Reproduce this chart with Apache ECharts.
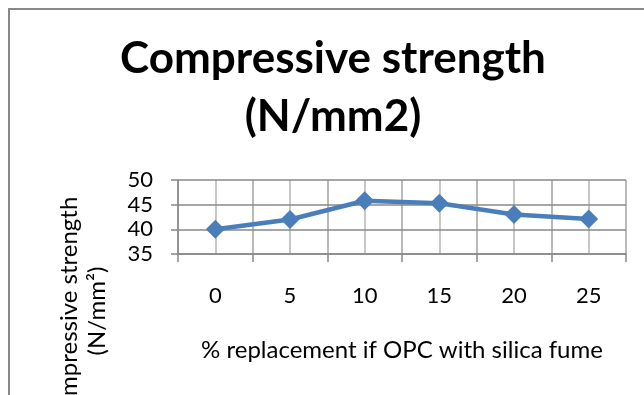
<!DOCTYPE html>
<html>
<head>
<meta charset="utf-8">
<script src="https://cdn.jsdelivr.net/npm/echarts@6/dist/echarts.min.js"></script>
<style>html,body{margin:0;padding:0;background:#fff}#c{width:644px;height:395px}</style>
</head>
<body>
<div id="c"></div>
<script>
const categories = ['0', '5', '10', '15', '20', '25'];
const strength = [40, 42, 45.8, 45.3, 43, 42.1];
const titleLines = ['Compressive strength', '(N/mm2)'];
const xAxisName = '% replacement if OPC with silica fume';
const yAxisName = 'Compressive strength\n(N/mm\u00B2)';

const FONT = 'Lato, "Open Sans", sans-serif';
const chart = echarts.init(document.getElementById('c'), null, {renderer: 'canvas'});
chart.setOption({
  animation: false,
  backgroundColor: '#fff',
  grid: {left: 178, right: 18, top: 180, bottom: 141, containLabel: false},
  xAxis: [{
    type: 'category',
    data: categories,
    boundaryGap: true,
    axisLine: {lineStyle: {color: '#888', width: 1.5}},
    axisTick: {show: true, length: 8, lineStyle: {color: '#888', width: 1.5}},
    axisLabel: {margin: 31, fontSize: 22, color: '#000', fontFamily: FONT},
    splitLine: {show: true, interval: 0, lineStyle: {color: '#b4b4b4', width: 1.5, type: 'solid'}},
    name: xAxisName,
    nameLocation: 'middle',
    nameGap: 84,
    nameTextStyle: {fontSize: 24, color: '#000', fontFamily: FONT}
  }, {
    type: 'value',
    min: -0.5, max: 5.5, interval: 0.5,
    position: 'bottom',
    show: true,
    axisLine: {show: false, onZero: false}, axisTick: {show: false}, axisLabel: {show: false},
    splitLine: {show: true, lineStyle: {color: '#b4b4b4', width: 1.5, type: 'solid'}}
  }],
  yAxis: {
    type: 'value',
    min: 35, max: 50, interval: 5,
    axisLine: {show: true, onZero: false, lineStyle: {color: '#888', width: 1.5}},
    axisTick: {show: true, length: 7, lineStyle: {color: '#888', width: 1.5}},
    axisLabel: {margin: 25, fontSize: 22, color: '#000', fontFamily: FONT},
    splitLine: {show: true, lineStyle: {color: '#888', width: 1.5}},
    z: 3
  },
  series: [{
    type: 'line',
    xAxisIndex: 0,
    data: strength,
    symbol: 'diamond',
    symbolSize: 19,
    lineStyle: {color: '#4a7ebb', width: 4.5},
    itemStyle: {color: '#4a7ebb'},
    z: 5
  }],
  graphic: [
    {type: 'rect', shape: {x: 9, y: 9, width: 1000, height: 1000},
     style: {fill: 'none', stroke: '#888', lineWidth: 2}, silent: true},
    {type: 'text', x: 333, y: 59,
     style: {text: titleLines[0], font: 'bold 44px ' + FONT, fill: '#000', textAlign: 'center', textVerticalAlign: 'middle'}},
    {type: 'text', x: 333, y: 117,
     style: {text: titleLines[1], font: 'bold 44px ' + FONT, fill: '#000', textAlign: 'center', textVerticalAlign: 'middle'}},
    {type: 'text', x: 83, y: 311, rotation: Math.PI / 2,
     style: {text: yAxisName, font: '24px ' + FONT, fill: '#000', textAlign: 'center', textVerticalAlign: 'middle', lineHeight: 28}}
  ]
});
</script>
</body>
</html>
